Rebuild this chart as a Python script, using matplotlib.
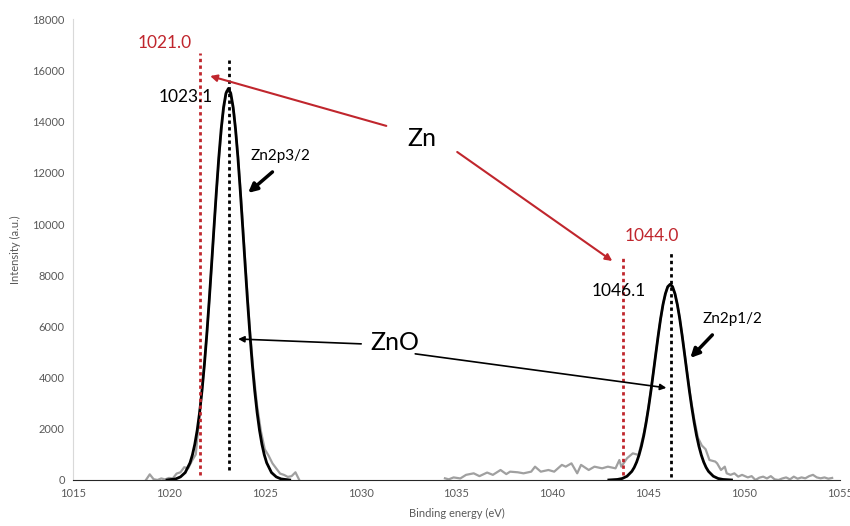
import matplotlib.pyplot as plt

# fitted curves
fit1_e = [1019.9, 1020.35, 1020.6, 1020.85, 1021.1, 1021.225, 1021.35, 1021.475, 1021.6,
          1021.725, 1021.85, 1021.975, 1022.1, 1022.225, 1022.35, 1022.475, 1022.6,
          1022.725, 1022.85, 1022.975, 1023.1, 1023.225, 1023.35, 1023.475, 1023.6,
          1023.725, 1023.85, 1023.975, 1024.1, 1024.225, 1024.35, 1024.475, 1024.6,
          1024.725, 1024.85, 1024.975, 1025.1, 1025.35, 1025.6, 1025.85, 1026.3]
fit1_i = [0, 40, 120, 290, 670, 981, 1400, 1946, 2640, 3490, 4510, 5690, 7000, 8415,
          9860, 11280, 12590, 13710, 14570, 15115, 15300, 15115, 14570, 13710, 12590,
          11280, 9860, 8415, 7000, 5690, 4510, 3490, 2640, 1946, 1400, 981, 670, 290,
          120, 40, 0]
fit2_e = [1042.95, 1043.4, 1043.65, 1043.9, 1044.15, 1044.275, 1044.4, 1044.525, 1044.65,
          1044.775, 1044.9, 1045.025, 1045.15, 1045.275, 1045.4, 1045.525, 1045.65,
          1045.775, 1045.9, 1046.025, 1046.15, 1046.275, 1046.4, 1046.525, 1046.65,
          1046.775, 1046.9, 1047.025, 1047.15, 1047.275, 1047.4, 1047.525, 1047.65,
          1047.775, 1047.9, 1048.025, 1048.15, 1048.4, 1048.65, 1048.9, 1049.35]
fit2_i = [0, 21, 58, 147, 336, 490, 700, 973, 1320, 1745, 2260, 2846, 3500, 4210, 4930,
          5640, 6300, 6856, 7280, 7557, 7650, 7557, 7280, 6856, 6300, 5640, 4930, 4210,
          3500, 2846, 2260, 1745, 1320, 973, 700, 490, 336, 147, 58, 21, 0]

# raw spectrum, two measured windows
raw1_e = [1018.8, 1019.0, 1019.2, 1019.4, 1019.6, 1019.8, 1020.0, 1020.2, 1020.4, 1020.6,
          1020.8, 1021.0, 1021.2, 1021.4, 1021.6, 1021.8, 1022.0, 1022.2, 1022.4, 1022.6,
          1022.8, 1023.0, 1023.2, 1023.4, 1023.6, 1023.8, 1024.0, 1024.2, 1024.4, 1024.6,
          1024.8, 1025.0, 1025.2, 1025.4, 1025.6, 1025.8, 1026.0, 1026.2, 1026.4, 1026.6,
          1026.8]
raw1_i = [0, 220, 30, 0, 60, 20, 80, 60, 250, 300, 500, 450, 750, 1000, 2600, 4100,
          5900, 8100, 10400, 12500, 14200, 15200, 15150, 14300, 12700, 10600, 8300, 6100,
          4300, 2900, 1900, 1200, 950, 650, 450, 250, 200, 120, 150, 300, 0]
raw2_e = [1034.4, 1034.6, 1034.85, 1035.2, 1035.5, 1035.9, 1036.2, 1036.6, 1036.9, 1037.3,
          1037.6, 1037.8, 1038.2, 1038.5, 1038.9, 1039.1, 1039.4, 1039.8, 1040.1, 1040.5,
          1040.7, 1041.0, 1041.3, 1041.5, 1041.9, 1042.2, 1042.6, 1042.9, 1043.3, 1043.5,
          1043.6, 1043.9, 1044.2, 1044.5, 1044.8, 1045.0, 1045.2, 1045.4, 1045.6, 1045.8,
          1046.0, 1046.2, 1046.4, 1046.6, 1046.8, 1047.0, 1047.2, 1047.4, 1047.6, 1047.8,
          1048.0, 1048.2, 1048.5, 1048.6, 1048.8, 1049.0, 1049.1, 1049.3, 1049.5, 1049.7,
          1049.9, 1050.2, 1050.4, 1050.6, 1050.8, 1051.0, 1051.2, 1051.4, 1051.6, 1051.8,
          1052.0, 1052.2, 1052.4, 1052.6, 1052.8, 1053.0, 1053.2, 1053.4, 1053.6, 1053.8,
          1054.0, 1054.2, 1054.4, 1054.6]
raw2_i = [65, 25, 100, 60, 200, 260, 150, 290, 200, 390, 230, 325, 300, 260, 325, 520,
          325, 390, 325, 590, 520, 650, 260, 590, 390, 520, 455, 520, 455, 780, 520, 850,
          1040, 980, 1900, 2750, 3800, 4950, 6050, 6950, 7520, 7640, 7280, 6550, 5550,
          4400, 3300, 2400, 1650, 1350, 1200, 780, 720, 650, 390, 520, 260, 200, 260, 130,
          200, 100, 150, 0, 90, 130, 60, 150, 25, 0, 60, 100, 25, 130, 50, 100, 65, 150,
          200, 100, 65, 100, 50, 80]

xticks = [1015, 1020, 1025, 1030, 1035, 1040, 1045, 1050, 1055]
yticks = list(range(0, 18001, 2000))

red = '#c0262d'
font = 'Lato'

fig = plt.figure(figsize=(8.5, 5.26), dpi=100)
ax = fig.add_axes([0.086, 0.0875, 0.902, 0.8755])

ax.plot(raw1_e, raw1_i, color='#a0a0a0', lw=1.6)
ax.plot(raw2_e, raw2_i, color='#a0a0a0', lw=1.6)
ax.plot(fit1_e, fit1_i, color='black', lw=2)
ax.plot(fit2_e, fit2_i, color='black', lw=2)

# reference lines
ax.plot([1021.6, 1021.6], [200, 16700], color=red, lw=2, ls=(0, (1.2, 1.2)))
ax.plot([1043.7, 1043.7], [200, 8700], color=red, lw=2, ls=(0, (1.2, 1.2)))
ax.plot([1023.15, 1023.15], [400, 16550], color='black', lw=2, ls=(0, (1.2, 1.2)))
ax.plot([1046.2, 1046.2], [100, 8870], color='black', lw=2, ls=(0, (1.2, 1.2)))

ax.text(1019.8, 17080, '1021.0', color=red, fontsize=12.5, family=font, ha='center', va='center')
ax.text(1020.9, 14970, '1023.1', color='black', fontsize=12.5, family=font, ha='center', va='center')
ax.text(1045.17, 9540, '1044.0', color=red, fontsize=12.5, family=font, ha='center', va='center')
ax.text(1043.45, 7390, '1046.1', color='black', fontsize=12.5, family=font, ha='center', va='center')
ax.text(1025.8, 12650, 'Zn2p3/2', color='black', fontsize=11, family=font, ha='center', va='center')
ax.text(1049.4, 6290, 'Zn2p1/2', color='black', fontsize=11, family=font, ha='center', va='center')
ax.text(1033.2, 13330, 'Zn', color='black', fontsize=18, family=font, ha='center', va='center')
ax.text(1031.8, 5360, 'ZnO', color='black', fontsize=18, family=font, ha='center', va='center')

def arrow(x0, y0, x1, y1, color, lw, scale):
    ax.annotate('', xy=(x1, y1), xytext=(x0, y0),
                arrowprops=dict(arrowstyle='-|>', color=color, lw=lw,
                                mutation_scale=scale, shrinkA=0, shrinkB=0))

arrow(1031.34, 13840, 1022.15, 15790, red, 1.5, 10)
arrow(1035.04, 12820, 1043.13, 8560, red, 1.5, 10)
arrow(1030.03, 5320, 1023.61, 5510, 'black', 1.2, 9)
arrow(1032.85, 4930, 1045.95, 3600, 'black', 1.2, 9)
arrow(1025.4, 12040, 1024.13, 11220, 'black', 2.5, 13)
arrow(1048.35, 5670, 1047.2, 4770, 'black', 2.5, 13)

ax.set_xlim(1015, 1055)
ax.set_ylim(0, 18000)
ax.set_xticks(xticks)
ax.set_yticks(yticks)
ax.tick_params(length=0, labelsize=8, colors='#595959', pad=6)
for lab in ax.get_xticklabels() + ax.get_yticklabels():
    lab.set_family(font)
ax.set_xlabel('Binding energy (eV)', fontsize=8, color='#595959', family=font, labelpad=6)
ax.set_ylabel('Intensity (a.u.)', fontsize=8, color='#595959', family=font, labelpad=8)
ax.spines['top'].set_visible(False)
ax.spines['right'].set_visible(False)
ax.spines['left'].set_color('#d9d9d9')
ax.spines['bottom'].set_color('#262626')

fig.savefig('out.png', dpi=100)
